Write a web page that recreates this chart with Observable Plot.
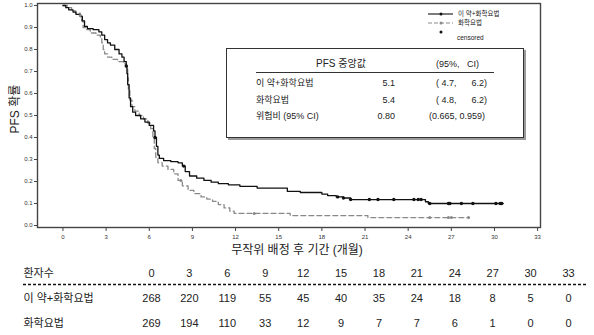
<!DOCTYPE html>
<html><head><meta charset="utf-8">
<script src="https://cdn.jsdelivr.net/npm/d3@7"></script>
<script src="https://cdn.jsdelivr.net/npm/@observablehq/plot@0.6"></script>
<style>
body{margin:0;background:#fff;font-family:"Liberation Sans",Arial,"Noto Sans CJK KR",sans-serif;}
#wrap{position:relative;width:594px;height:335px;overflow:hidden;background:#fff;}
#chart svg,#risk svg{display:block;}
#stats{position:absolute;left:226px;top:48px;width:296px;height:88px;border:1px solid #333;box-shadow:2px 2px 0 #9a9a9a;background:#fff;font-size:9px;color:#222;}
#stats span{position:absolute;white-space:pre;line-height:12px;}
#stats .rule{position:absolute;left:29px;width:238px;top:23px;border-top:1px solid #333;height:0;}
#legend{position:absolute;left:0;top:0;}
</style></head><body>
<div id="wrap"><div id="chart"></div><div id="risk"></div><div id="stats"></div><svg id="legend" width="594" height="50"></svg></div>
<script>
// ---- data ----
const armNames = ["이 약+화학요법", "화학요법"];
const armATime = [0,0.2,0.4,0.7,0.9,1.2,1.35,1.5,1.7,2.1,2.5,2.7,2.9,3.1,3.3,3.6,3.9,4.1,4.25,4.4,4.45,4.5,4.6,4.7,4.85,5.05,5.4,5.7,6.0,6.3,6.4,6.5,6.6,6.7,7.0,7.5,8.0,8.3,8.5,8.8,9.3,9.8,10.3,10.8,11.5,12.3,13.5,15.6,16.5,18.0,18.4,19.0,19.5,20.0,25.2,25.4,30.6];
const armASurv = [1.0,0.99,0.98,0.97,0.96,0.95,0.93,0.905,0.895,0.89,0.88,0.865,0.845,0.83,0.82,0.80,0.78,0.765,0.745,0.725,0.69,0.64,0.58,0.54,0.515,0.50,0.485,0.47,0.455,0.43,0.40,0.36,0.32,0.305,0.295,0.29,0.285,0.27,0.245,0.225,0.215,0.205,0.197,0.19,0.185,0.178,0.170,0.155,0.150,0.143,0.136,0.130,0.125,0.118,0.108,0.10,0.10];
const armBTime = [0,0.3,0.6,0.9,1.2,1.3,1.4,1.6,1.9,2.3,2.6,2.7,2.8,2.9,3.1,3.4,3.8,4.2,4.4,4.5,4.55,4.65,4.8,5.0,5.3,5.6,5.9,6.1,6.25,6.35,6.45,6.6,6.9,7.3,7.7,8.0,8.3,8.7,9.1,9.6,10.0,10.4,10.8,11.2,11.6,11.9,15.8,21.2,28.2];
const armBSurv = [1.0,0.99,0.975,0.965,0.955,0.93,0.90,0.89,0.875,0.865,0.855,0.83,0.80,0.78,0.765,0.755,0.745,0.735,0.71,0.67,0.62,0.57,0.54,0.52,0.50,0.485,0.465,0.44,0.40,0.35,0.31,0.285,0.27,0.255,0.235,0.205,0.18,0.16,0.145,0.13,0.12,0.11,0.095,0.08,0.065,0.055,0.045,0.036,0.036];
const censorATime = [4.4,6.4,8.4,19.1,19.5,20.0,21.3,21.9,23.0,24.4,24.7,24.9,25.5,26.8,26.9,27.7,28.5,30.1,30.4,30.5];
const censorBTime = [1.2,8.2,13.3,25.5,26.8,27.0,28.2];
const xTicks = [0,3,6,9,12,15,18,21,24,27,30,33];
const yTicks = [0,0.1,0.2,0.3,0.4,0.5,0.6,0.7,0.8,0.9,1.0];
const xLabel = "무작위 배정 후 기간 (개월)";
const yLabel = "PFS 확률";
const riskHeader = "환자수";
const riskTimes = [0,3,6,9,12,15,18,21,24,27,30,33];
const riskA = [268,220,119,55,45,40,35,24,18,8,5,0];
const riskB = [269,194,110,33,12,9,7,7,6,1,0,0];
const statTitle = "PFS 중앙값";
const statCI = "(95%,   CI)";
const statRows = ["이 약+화학요법", "화학요법", "위험비 (95% CI)"];
const statEst = ["5.1", "5.4", "0.80"];
const statLo = ["4.7", "4.8", "0.665"];
const statHi = ["6.2", "6.2", "0.959"];
const legendCensored = "censored";

// ---- build ----
const FONT = '"Liberation Sans", Arial, "Noto Sans CJK KR", sans-serif';
const toRows = (T, S) => T.map((t, i) => ({t, s: S[i]}));
const armA = toRows(armATime, armASurv);
const armB = toRows(armBTime, armBSurv);
const stepAt = (T, S, t) => { let v = S[0]; for (let i = 0; i < T.length; i++) if (T[i] <= t) v = S[i]; return v; };
const censA = censorATime.map(t => ({t, s: stepAt(armATime, armASurv, t)}));
const censB = censorBTime.map(t => ({t, s: stepAt(armBTime, armBSurv, t)}));

const chart = Plot.plot({
  width: 594, height: 262,
  marginLeft: 37, marginRight: 54, marginTop: 3, marginBottom: 35,
  x: {domain: [-1.77, 33.2]},
  y: {domain: [-0.009, 1.009]},
  style: {fontFamily: FONT, color: "#333", background: "white"},
  marks: [
    Plot.axisX({ticks: xTicks, tickSize: 4, tickPadding: 3, fontSize: 6, label: null, stroke: "#444"}),
    Plot.axisY({ticks: yTicks, tickFormat: d3.format(".1f"), tickSize: 3, tickPadding: 2, fontSize: 6, label: null, stroke: "#444"}),
    Plot.line(armB, {x: "t", y: "s", curve: "step-after", stroke: "#8a8a8a", strokeWidth: 1.3, strokeDasharray: "5,3"}),
    Plot.line(armA, {x: "t", y: "s", curve: "step-after", stroke: "#111", strokeWidth: 1.3}),
    Plot.dot(censB, {x: "t", y: "s", r: 1.5, fill: "#888", stroke: null}),
    Plot.dot(censA, {x: "t", y: "s", r: 1.7, fill: "#111", stroke: null}),
    Plot.frame({stroke: "#444", strokeWidth: 1.4}),
    Plot.text([xLabel], {frameAnchor: "bottom", dy: 26, dx: 8, fontSize: 12, fill: "#222"}),
    Plot.text([yLabel], {frameAnchor: "left", rotate: -90, dx: -22, dy: 18, fontSize: 12, fill: "#222"})
  ]
});
document.getElementById("chart").appendChild(chart);

const rowKeys = [riskHeader, armNames[0], armNames[1]];
const riskData = [
  ...riskTimes.map(t => ({t, row: 0, n: String(t)})),
  ...riskTimes.map((t, i) => ({t, row: 1, n: String(riskA[i])})),
  ...riskTimes.map((t, i) => ({t, row: 2, n: String(riskB[i])}))
];
const risk = Plot.plot({
  width: 594, height: 73,
  marginLeft: 23, marginRight: 7, marginTop: 0, marginBottom: 0,
  x: {domain: [0, 33], range: [151, 568], axis: null},
  y: {domain: [0, 2], range: [11, 61], axis: null},
  style: {fontFamily: FONT, background: "white"},
  marks: [
    Plot.ruleY([0], {dy: 11, stroke: "#111", strokeDasharray: "3,2", strokeWidth: 1.5}),
    Plot.text(riskData, {x: "t", y: "row", text: "n", fontSize: 11, fill: "#222"}),
    Plot.text(rowKeys, {y: (d, i) => i, text: d => d, frameAnchor: "left", textAnchor: "start", fontSize: 11, fill: "#222"})
  ]
});
document.getElementById("risk").appendChild(risk);

// stats box
const st = document.getElementById("stats");
const span = (txt, css) => { const s = document.createElement("span"); s.textContent = txt; Object.assign(s.style, css); st.appendChild(s); };
span(statTitle, {left: "89px", top: "9px", fontSize: "10px"});
span(statCI, {left: "209px", top: "9px"});
st.appendChild(Object.assign(document.createElement("div"), {className: "rule"}));
const rowTops = [28, 45, 61];
statRows.forEach((r, i) => {
  span(r, {left: "29px", top: rowTops[i] + "px"});
  span(statEst[i], {right: (296 - 168) + "px", top: rowTops[i] + "px"});
  if (i < 2) {
    span("( " + statLo[i] + ",", {left: "209px", top: rowTops[i] + "px"});
    span(statHi[i] + ")", {right: (296 - 260) + "px", top: rowTops[i] + "px"});
  } else {
    span("(" + statLo[i] + ", " + statHi[i] + ")", {left: "202px", top: rowTops[i] + "px"});
  }
});

// legend
const lg = d3.select("#legend").style("font-family", FONT);
const items = [
  {label: armNames[0], color: "#111", dash: null, y: 14},
  {label: armNames[1], color: "#8a8a8a", dash: "4,2", y: 23}
];
items.forEach(it => {
  lg.append("line").attr("x1", 428).attr("x2", 453).attr("y1", it.y).attr("y2", it.y)
    .attr("stroke", it.color).attr("stroke-width", 1.1).attr("stroke-dasharray", it.dash);
  lg.append("circle").attr("cx", 441).attr("cy", it.y).attr("r", 1.5).attr("fill", it.color);
  lg.append("text").attr("x", 458).attr("y", it.y).attr("dy", "0.35em").attr("font-size", 6.5).attr("fill", "#222").text(it.label);
});
lg.append("circle").attr("cx", 441).attr("cy", 32).attr("r", 1.5).attr("fill", "#111");
lg.append("text").attr("x", 457).attr("y", 38).attr("dy", "0.35em").attr("font-size", 6.5).attr("fill", "#222").text(legendCensored);
</script>
</body></html>
